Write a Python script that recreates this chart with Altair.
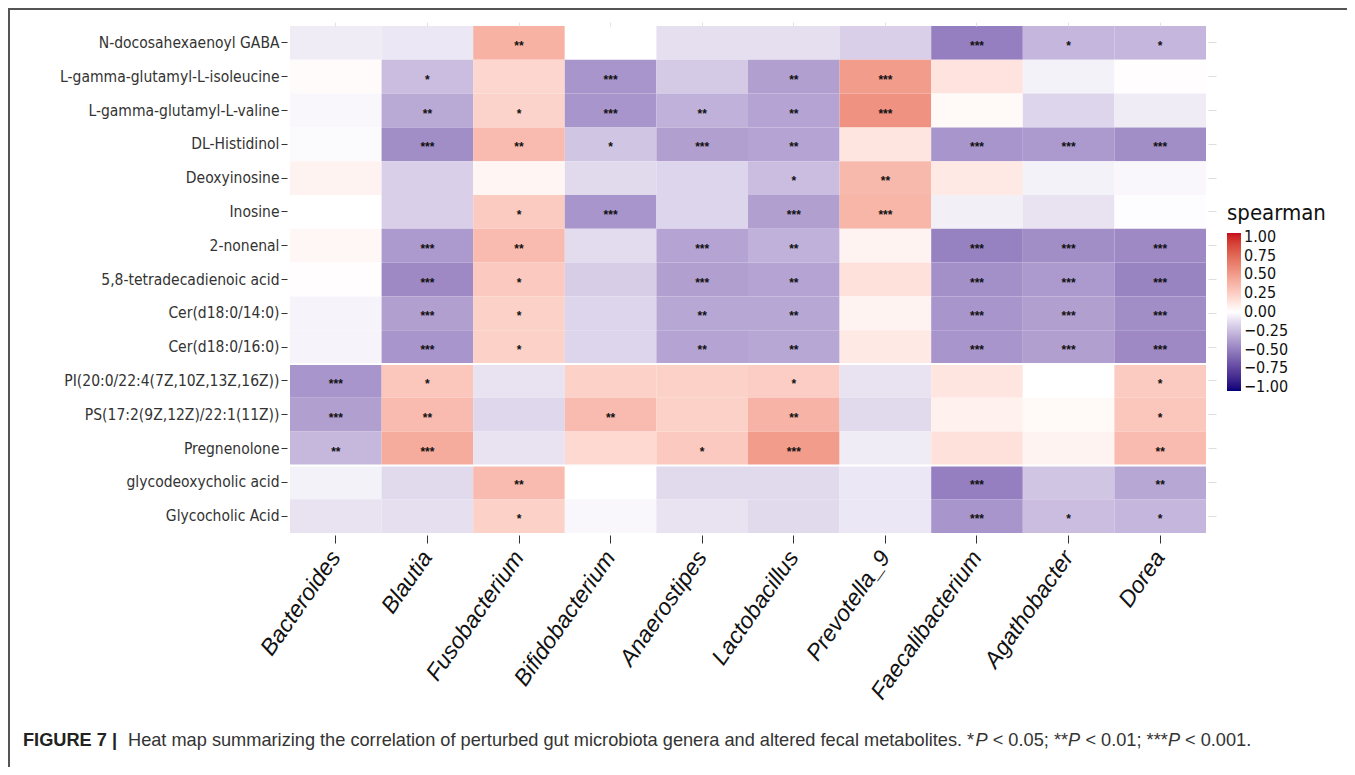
import altair as alt
import pandas as pd

metabolites = [
    "N-docosahexaenoyl GABA",
    "L-gamma-glutamyl-L-isoleucine",
    "L-gamma-glutamyl-L-valine",
    "DL-Histidinol",
    "Deoxyinosine",
    "Inosine",
    "2-nonenal",
    "5,8-tetradecadienoic acid",
    "Cer(d18:0/14:0)",
    "Cer(d18:0/16:0)",
    "PI(20:0/22:4(7Z,10Z,13Z,16Z))",
    "PS(17:2(9Z,12Z)/22:1(11Z))",
    "Pregnenolone",
    "glycodeoxycholic acid",
    "Glycocholic Acid",
]

genera = ["Bacteroides", "Blautia", "Fusobacterium", "Bifidobacterium", "Anaerostipes",
          "Lactobacillus", "Prevotella_9", "Faecalibacterium", "Agathobacter", "Dorea"]

rho = [
    [-0.07, -0.09, 0.39, 0.00, -0.12, -0.12, -0.18, -0.50, -0.28, -0.28],
    [0.02, -0.25, 0.20, -0.41, -0.20, -0.37, 0.50, 0.14, -0.05, 0.01],
    [-0.03, -0.33, 0.22, -0.41, -0.30, -0.35, 0.55, 0.03, -0.16, -0.07],
    [-0.02, -0.44, 0.34, -0.22, -0.37, -0.35, 0.13, -0.41, -0.39, -0.44],
    [0.06, -0.18, 0.05, -0.14, -0.16, -0.25, 0.35, 0.11, -0.05, -0.03],
    [0.00, -0.18, 0.26, -0.41, -0.16, -0.37, 0.37, -0.06, -0.11, -0.01],
    [0.04, -0.39, 0.34, -0.13, -0.35, -0.30, 0.06, -0.49, -0.44, -0.46],
    [0.01, -0.46, 0.27, -0.19, -0.37, -0.35, 0.15, -0.43, -0.39, -0.48],
    [-0.04, -0.37, 0.23, -0.16, -0.34, -0.34, 0.06, -0.41, -0.37, -0.44],
    [-0.04, -0.41, 0.23, -0.16, -0.35, -0.34, 0.11, -0.41, -0.37, -0.46],
    [-0.41, 0.28, -0.11, 0.23, 0.23, 0.25, -0.11, 0.13, 0.00, 0.26],
    [-0.37, 0.34, -0.15, 0.34, 0.23, 0.38, -0.14, 0.07, 0.03, 0.28],
    [-0.27, 0.42, -0.11, 0.19, 0.27, 0.50, -0.07, 0.15, 0.06, 0.34],
    [-0.05, -0.14, 0.34, 0.00, -0.14, -0.14, -0.09, -0.50, -0.22, -0.34],
    [-0.11, -0.12, 0.23, -0.03, -0.11, -0.14, -0.09, -0.41, -0.25, -0.28],
]

stars = [
    ["", "", "**", "", "", "", "", "***", "*", "*"],
    ["", "*", "", "***", "", "**", "***", "", "", ""],
    ["", "**", "*", "***", "**", "**", "***", "", "", ""],
    ["", "***", "**", "*", "***", "**", "", "***", "***", "***"],
    ["", "", "", "", "", "*", "**", "", "", ""],
    ["", "", "*", "***", "", "***", "***", "", "", ""],
    ["", "***", "**", "", "***", "**", "", "***", "***", "***"],
    ["", "***", "*", "", "***", "**", "", "***", "***", "***"],
    ["", "***", "*", "", "**", "**", "", "***", "***", "***"],
    ["", "***", "*", "", "**", "**", "", "***", "***", "***"],
    ["***", "*", "", "", "", "*", "", "", "", "*"],
    ["***", "**", "", "**", "", "**", "", "", "", "*"],
    ["**", "***", "", "", "*", "***", "", "", "", "**"],
    ["", "", "**", "", "", "", "", "***", "", "**"],
    ["", "", "*", "", "", "", "", "***", "*", "*"],
]

legend_values = [1.0, 0.75, 0.5, 0.25, 0.0, -0.25, -0.5, -0.75, -1.0]
group_ends = ["Cer(d18:0/16:0)", "Pregnenolone"]

caption_bold = "FIGURE 7 |"
caption_main = "Heat map summarizing the correlation of perturbed gut microbiota genera and altered fecal metabolites. *"
caption_pieces = [("P", "italic"), ("< 0.05; **", "normal"), ("P", "italic"),
                  ("< 0.01; ***", "normal"), ("P", "italic"), ("< 0.001.", "normal")]

records = []
for i, m in enumerate(metabolites):
    for j, g in enumerate(genera):
        records.append({"metabolite": m, "genus": g, "rho": rho[i][j], "sig": stars[i][j]})
df = pd.DataFrame(records)

NARROW = "DejaVu Sans Condensed, Liberation Sans Narrow, sans-serif"
SANS = "Liberation Sans, Arial, Helvetica, sans-serif"
W, H = 916, 507

x_enc = alt.X(
    "genus:N", sort=genera, title=None,
    scale=alt.Scale(paddingInner=0, paddingOuter=0),
    axis=alt.Axis(labelFont=SANS, labelFontStyle="italic", labelFontSize=23, labelAngle=-55,
                  labelAlign="right", labelBaseline="middle", labelColor="#111",
                  tickColor="#333", tickSize=8, tickWidth=1, offset=2, labelPadding=10,
                  domain=False, grid=False, labelLimit=400),
)
y_enc = alt.Y(
    "metabolite:N", sort=metabolites, title=None,
    scale=alt.Scale(paddingInner=0, paddingOuter=0),
    axis=alt.Axis(labelFont=NARROW, labelFontSize=15.5, labelColor="#333",
                  tickColor="#333", tickSize=6, tickWidth=1, offset=3, labelPadding=2,
                  domain=False, grid=False, labelLimit=400),
)

# colour ramp white -> navy / firebrick in Lab space, domain slightly wider than [-1, 1]
color = alt.Color(
    "rho:Q",
    scale=alt.Scale(domain=[-1.05, 0, 1.05], range=["#000079", "#ffffff", "#c80b1c"],
                    interpolate="lab"),
    legend=alt.Legend(
        title="spearman", orient="none", legendX=937, legendY=177, direction="vertical",
        gradientLength=158, gradientThickness=14, gradientStrokeWidth=0,
        values=legend_values, format=".2f", labelOverlap=False,
        titleFont=NARROW, titleFontSize=22, titleFontWeight="normal", titleColor="#111",
        titlePadding=8, labelFont=NARROW, labelFontSize=16, labelColor="#111",
        labelOffset=3, padding=0,
    ),
)

heat = alt.Chart(df).mark_rect().encode(x=x_enc, y=y_enc, color=color)

# faint ticks on the top and right edges of the panel
faint = alt.Chart(df).mark_rect(opacity=0).encode(
    x=alt.X("genus:N", sort=genera, title=None,
            axis=alt.Axis(orient="top", labels=False, tickColor="#e2e2e2", tickSize=4,
                          offset=0, domain=False, grid=False)),
    y=alt.Y("metabolite:N", sort=metabolites, title=None,
            axis=alt.Axis(orient="right", labels=False, tickColor="#dddddd", tickSize=8,
                          offset=2, domain=False, grid=False)),
)

sig = alt.Chart(df).mark_text(
    font=SANS, fontSize=12, fontWeight="bold", baseline="alphabetic", dy=7, color="#111"
).encode(
    x=alt.X("genus:N", sort=genera, axis=None),
    y=alt.Y("metabolite:N", sort=metabolites, axis=None),
    text="sig:N",
)

sep = alt.Chart(pd.DataFrame({"metabolite": group_ends})).mark_rule(
    color="white", strokeWidth=2
).encode(
    y=alt.Y("metabolite:N", sort=metabolites, bandPosition=1, axis=None),
    x=alt.value(0), x2=alt.value(W),
)

one = pd.DataFrame({"k": [0]})
frame_v = alt.Chart(one).mark_rule(color="#555", strokeWidth=2).encode(
    x=alt.value(-281), y=alt.value(-17), y2=alt.value(745))
frame_h = alt.Chart(one).mark_rule(color="#555", strokeWidth=2).encode(
    y=alt.value(-17), x=alt.value(-282), x2=alt.value(1060))

CAP_Y = 720
cap_layers = [
    alt.Chart(one).mark_text(text=caption_bold, font=SANS, fontSize=18.2, fontWeight="bold",
                             align="left", baseline="alphabetic", color="#222").encode(
        x=alt.value(-267), y=alt.value(CAP_Y)),
    alt.Chart(one).mark_text(text=caption_main, font=SANS, fontSize=18.2,
                             align="left", baseline="alphabetic", color="#333").encode(
        x=alt.value(-162), y=alt.value(CAP_Y)),
]
piece_x = [685.5, 702.7, 778, 795.4, 878, 895]
for (txt, style), px in zip(caption_pieces, piece_x):
    cap_layers.append(
        alt.Chart(one).mark_text(text=txt, font=SANS, fontSize=18.2, fontStyle=style,
                                 align="left", baseline="alphabetic", color="#333").encode(
            x=alt.value(px), y=alt.value(CAP_Y))
    )

chart = alt.layer(heat, faint, sig, sep, frame_v, frame_h, *cap_layers).resolve_axis(
    x="independent", y="independent"
).properties(
    width=W, height=H,
    autosize=alt.AutoSizeParams(type="none"),
    padding={"left": 282, "top": 18, "right": 141, "bottom": 234},
).configure_view(stroke=None)

chart.save("out.html", embed_options={"renderer": "svg", "actions": False})
